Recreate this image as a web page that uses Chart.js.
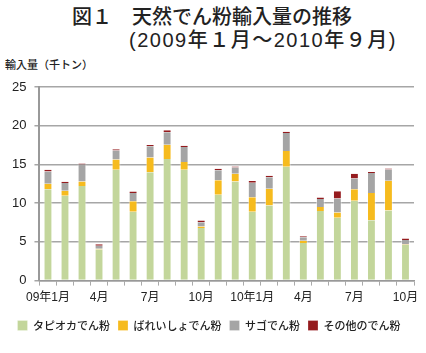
<!DOCTYPE html>
<html>
<head>
<meta charset="utf-8">
<script src="https://cdn.jsdelivr.net/npm/chart.js@4"></script>
<style>
  body { margin: 0; background: #fff; font-family: "Noto Sans CJK JP", sans-serif; }
  #wrap { position: relative; width: 426px; height: 353px; }
  .t { position: absolute; color: #222; white-space: nowrap; }
  #t1 { left: 72px; top: 4px; font-size: 20px; line-height: 24px; font-weight: 500; }
  #t2 { left: 129px; top: 28px; font-size: 20px; line-height: 24px; font-weight: 500;
        letter-spacing: 1.5px; font-family: "Liberation Sans", "Noto Sans CJK JP", sans-serif; }
  #unit { left: 5px; top: 56px; font-size: 11px; font-weight: 500; }
  canvas { position: absolute; left: 0; top: 0; }
</style>
</head>
<body>
<div id="wrap">
  <div class="t" id="t1">図１　天然でん粉輸入量の推移</div>
  <div class="t" id="t2">(2009年１月～2010年９月)</div>
  <div class="t" id="unit">輸入量（千トン）</div>
  <canvas id="chart" width="426" height="353"></canvas>
</div>
<script>
const months = ['09年1月', '2月', '3月', '4月', '5月', '6月', '7月', '8月', '9月', '10月', '11月', '12月',
    '10年1月', '2月', '3月', '4月', '5月', '6月', '7月', '8月', '9月', '10月'];
const tapioca = [11.8, 10.95, 12.2, 4.0, 14.3, 8.9, 14.0, 15.7, 14.3, 6.8, 11.1, 12.8,
    8.9, 9.7, 14.7, 4.85, 9.0, 8.1, 10.3, 7.8, 9.05, 4.6];
const bareisho = [0.7, 0.65, 0.6, 0.1, 1.35, 1.35, 1.9, 1.85, 1.0, 0.2, 1.85, 1.0,
    1.85, 2.15, 2.05, 0.3, 0.5, 0.7, 1.5, 3.5, 3.85, 0.05];
const sago = [1.6, 1.0, 2.2, 0.4, 1.15, 1.05, 1.45, 1.6, 1.95, 0.55, 1.3, 0.8,
    1.9, 1.5, 2.3, 0.45, 1.05, 1.8, 1.4, 2.6, 1.45, 0.6];
const other = [0.2, 0.17, 0.13, 0.2, 0.15, 0.2, 0.15, 0.25, 0.17, 0.2, 0.2, 0.12,
    0.2, 0.18, 0.17, 0.12, 0.17, 0.95, 0.6, 0.13, 0.13, 0.2];
const yTicks = [0, 5, 10, 15, 20, 25];

const font = "'Liberation Sans', 'Noto Sans CJK JP', sans-serif";

function series(label, data, color) {
    return {
        label: label,
        data: data,
        backgroundColor: color,
        borderColor: 'rgba(255,255,255,0.5)',
        borderWidth: { left: 1, right: 1 },
        borderSkipped: false,
        barPercentage: 0.52,
        categoryPercentage: 1.0
    };
}

new Chart(document.getElementById('chart'), {
    type: 'bar',
    data: {
        labels: months,
        datasets: [
            series('タピオカでん粉', tapioca, '#c3d69b'),
            series('ばれいしょでん粉', bareisho, '#f6bb1e'),
            series('サゴでん粉', sago, '#a5a5a5'),
            series('その他のでん粉', other, '#951b1e')
        ]
    },
    options: {
        responsive: false,
        animation: false,
        layout: { padding: { top: 87, right: 12, left: 4, bottom: 12 } },
        plugins: {
            legend: {
                position: 'bottom',
                labels: {
                    boxWidth: 10,
                    boxHeight: 10,
                    padding: 8,
                    color: '#222',
                    font: { family: "'Noto Sans CJK JP', sans-serif", size: 11, weight: '500' }
                }
            },
            tooltip: { enabled: false }
        },
        scales: {
            x: {
                stacked: true,
                grid: {
                    drawOnChartArea: false,
                    color: '#aaa',
                    tickLength: 5
                },
                border: { color: '#999', width: 1.5 },
                afterFit: function(axis) {
                    axis.height += 2;
                },
                ticks: {
                    autoSkip: false,
                    maxRotation: 0,
                    color: '#222',
                    font: { family: font, size: 12 },
                    padding: 5,
                    callback: function(value, index) {
                        return index % 3 === 0 ? months[index] : '';
                    }
                }
            },
            y: {
                stacked: true,
                min: 0,
                max: 25,
                afterBuildTicks: function(axis) {
                    axis.ticks = yTicks.map(v => ({ value: v }));
                },
                grid: {
                    color: '#a6a6a6',
                    lineWidth: 1.5,
                    tickLength: 5
                },
                border: { color: '#999', width: 2 },
                ticks: {
                    color: '#222',
                    font: { family: font, size: 13 },
                    padding: 8
                }
            }
        }
    }
});
</script>
</body>
</html>
